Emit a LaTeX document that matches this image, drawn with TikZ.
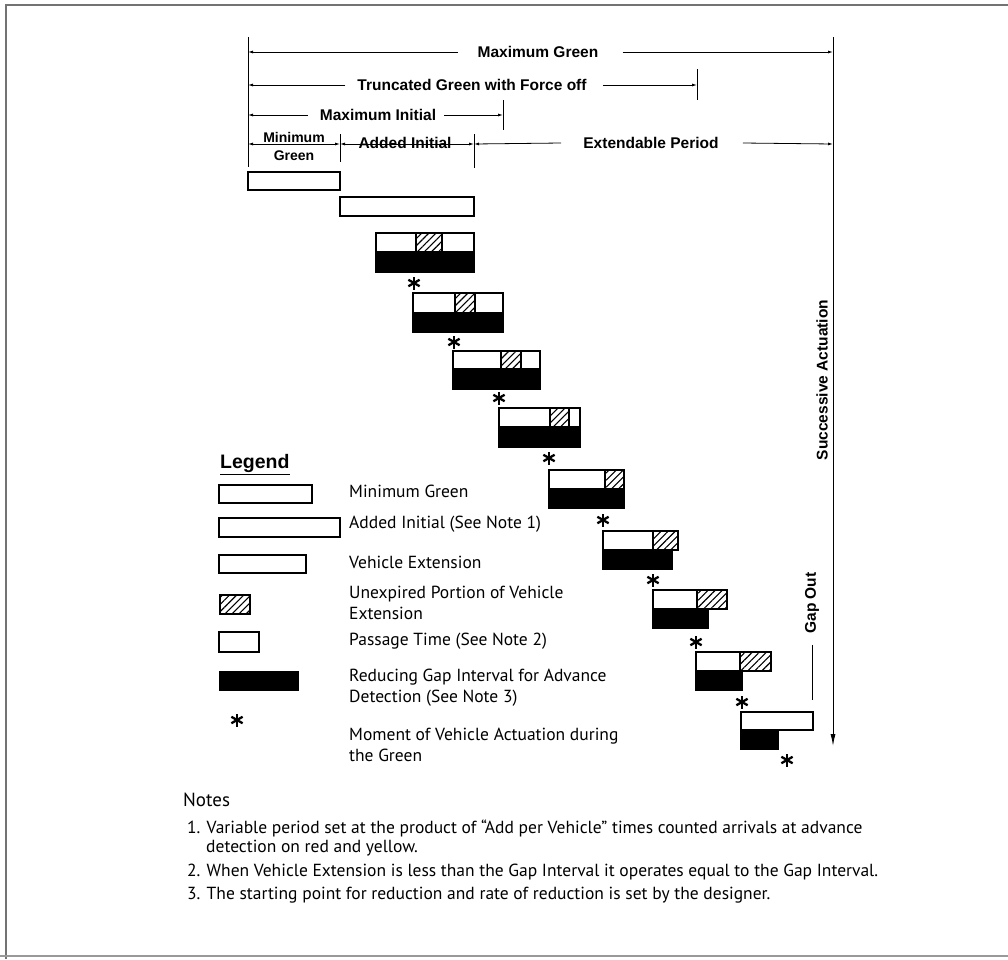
\documentclass[tikz,border=0pt]{standalone}
\usepackage{fontspec}
\setmainfont{PT Sans}
\newfontfamily\hfont{Liberation Sans}
\usetikzlibrary{arrows.meta,patterns.meta}

\tikzset{
  tick/.style={line width=1pt},
  dimline/.style={line width=0.8pt},
  dimend/.style={dimline, -{Latex[length=5pt,width=3pt]}},
  dimboth/.style={dimline, {Latex[length=5pt,width=3pt]}-{Latex[length=5pt,width=3pt]}},
  mainarrow/.style={line width=1pt, -{Latex[length=12pt,width=5pt]}},
  hdr/.style={font=\hfont\bfseries\fontsize{15.5}{16}\selectfont, inner sep=0pt},
  legtext/.style={font=\fontsize{17.5}{21}\selectfont, anchor=west, inner sep=0pt, align=left},
  notetext/.style={font=\fontsize{17.5}{20}\selectfont, anchor=base west, inner sep=0pt},
  whitebar/.style={draw, line width=1.2pt, fill=white},
  hatchbar/.style={draw, line width=1.2pt, pattern={Lines[angle=45,distance=5pt,line width=1.1pt]}},
  blackbar/.style={draw, line width=1.2pt, fill=black},
  frame/.style={line width=2pt, draw=black!55},
  star/.pic={\foreach \a in {90,30,150} \draw[line width=2.3pt] (\a:6.5) -- (\a+180:6.5);}
}

\begin{document}
\begin{tikzpicture}[x=1pt,y=-1pt]
\useasboundingbox (0,0) rectangle (1008,959);

% page frame
\draw[frame] (6,959) -- (6,5) -- (1008,5);
\draw[line width=1.5pt, draw=black!40] (0,956) -- (1008,956);

% ---------------- time scale header ----------------
\coordinate (L0) at (248,37);  \coordinate (L1) at (248,167);
\coordinate (R0) at (833,37);  \coordinate (R1) at (833,746);
\coordinate (T0) at (697,69);  \coordinate (T1) at (697,100);
\coordinate (I0) at (503,100); \coordinate (I1) at (503,130);
\coordinate (M0) at (340,134); \coordinate (M1) at (340,162);
\coordinate (A0) at (474,134); \coordinate (A1) at (474,168);

\draw[tick] (L0) -- (L1);
\draw[tick] (T0) -- (T1);
\draw[tick] (I0) -- (I1);
\draw[tick] (M0) -- (M1);
\draw[tick] (A0) -- (A1);
\draw[mainarrow] (R0) -- (R1);

% Maximum Green
\node[hdr] (mg) at (538,52) {Maximum Green};
\draw[dimend] ([xshift=-20pt]mg.west) -- (L0 |- mg);
\draw[dimend] ([xshift=24pt]mg.east) -- (R0 |- mg);

% Truncated Green with Force off
\node[hdr] (tg) at (472,85) {Truncated Green with Force off};
\draw[dimend] ([xshift=-12pt]tg.west) -- (L0 |- tg);
\draw[dimend] ([xshift=16pt]tg.east) -- (T0 |- tg);

% Maximum Initial
\node[hdr] (mi) at (378,115) {Maximum Initial};
\draw[dimend] ([xshift=-12pt]mi.west) -- (L0 |- mi);
\draw[dimend] ([xshift=8pt]mi.east) -- (I0 |- mi);

% Minimum Green / Added Initial / Extendable Period
\coordinate (row) at (0,144);
\draw[dimboth] (L0 |- row) -- (M0 |- row);
\node[hdr, align=center, font=\hfont\bfseries\fontsize{14}{18}\selectfont] (mng) at (294,146) {Minimum\\Green};
\draw[dimboth] (M0 |- row) -- (A0 |- row);
\node[hdr] (ai) at (405,143) {Added Initial};
\node[hdr] (ep) at (651,143) {Extendable Period};
\draw[dimend] ([xshift=-22pt]ep.west) -- (A0 |- row);
\draw[dimend] ([xshift=24pt]ep.east) -- (R0 |- row);

% ---------------- successive actuations ----------------
% Minimum green and added initial
\draw[whitebar] (248,172) rectangle (340,190);
\draw[whitebar] (340,197) rectangle (474,216);

% extensions: x0, x1, hatch start, hatch end, black end, top, mid, bottom, actuation mark
\foreach \xa/\xb/\ha/\hb/\bk/\ya/\ym/\yb/\sx/\sy in {
  376/474/416/442/474/233/252/272/414/283,
  413/503/455/475/503/293/313/332/454/342,
  453/540/501/521/540/351/369/389/499/398,
  499/580/550/569/580/408/427/447/549/458,
  549/624/605/624/624/470/489/508/603/520,
  603/678/653/678/672/531/550/569/653/580,
  653/727/697/727/708/590/609/628/696/642,
  696/771/740/771/742/652/671/690/742/702}{
  \draw[whitebar] (\xa,\ya) rectangle (\xb,\ym);
  \draw[hatchbar] (\ha,\ya) rectangle (\hb,\ym);
  \draw[blackbar] (\xa,\ym) rectangle (\bk,\yb);
  \pic at (\sx,\sy) {star};
}
% final actuation
\draw[whitebar] (741,712) rectangle (813,730);
\draw[blackbar] (741,730) rectangle (778,749);
\pic at (787,760) {star};

% side labels
\node[hdr, rotate=90] (sa) at (822,380) {Successive Actuation};
\node[hdr, rotate=90] (go) at (812,603) {Gap Out};
\coordinate (g1) at (812,700);
\draw[tick] ([yshift=-11pt]go.west) -- (g1);

% ---------------- legend ----------------
\node[font=\hfont\bfseries\fontsize{19.5}{20}\selectfont, anchor=west, inner sep=0pt] (lg) at (220,463) {Legend};
\draw[line width=1.2pt] ([yshift=-2pt]lg.south west) -- ([yshift=-2pt]lg.south east);

\draw[whitebar] (219,485) rectangle (312,503);
\node[legtext] (l1) at (349,491) {Minimum Green};
\draw[whitebar] (219,518) rectangle (340,537);
\node[legtext] (l2) at (349,524) {Added Initial (See Note 1)};
\draw[whitebar] (219,555) rectangle (306,573);
\node[legtext] (l3) at (349,562) {Vehicle Extension};
\draw[hatchbar] (220,595) rectangle (250,614);
\node[legtext] (l4) at (349,603) {Unexpired Portion of Vehicle\\Extension};
\draw[whitebar] (219,632) rectangle (259,652);
\node[legtext] (l5) at (349,641) {Passage Time (See Note 2)};
\draw[blackbar] (220,672) rectangle (298,690);
\node[legtext] (l6) at (349,688) {Reducing Gap Interval for Advance\\Detection (See Note 3)};
\pic at (237,720) {star};
\node[legtext] (l7) at (349,745) {Moment of Vehicle Actuation during\\the Green};

% ---------------- notes ----------------
\node[notetext, font=\fontsize{19}{20}\selectfont] (nt) at (183,806) {Notes};
\node[notetext] (n1) at (187,833) {1. Variable period set at the product of “Add per Vehicle” times counted arrivals at advance};
\node[notetext] (n1b) at (206,852) {detection on red and yellow.};
\node[notetext] (n2) at (187,876) {2. When Vehicle Extension is less than the Gap Interval it operates equal to the Gap Interval.};
\node[notetext] (n3) at (187,899) {3. The starting point for reduction and rate of reduction is set by the designer.};
\end{tikzpicture}
\end{document}
